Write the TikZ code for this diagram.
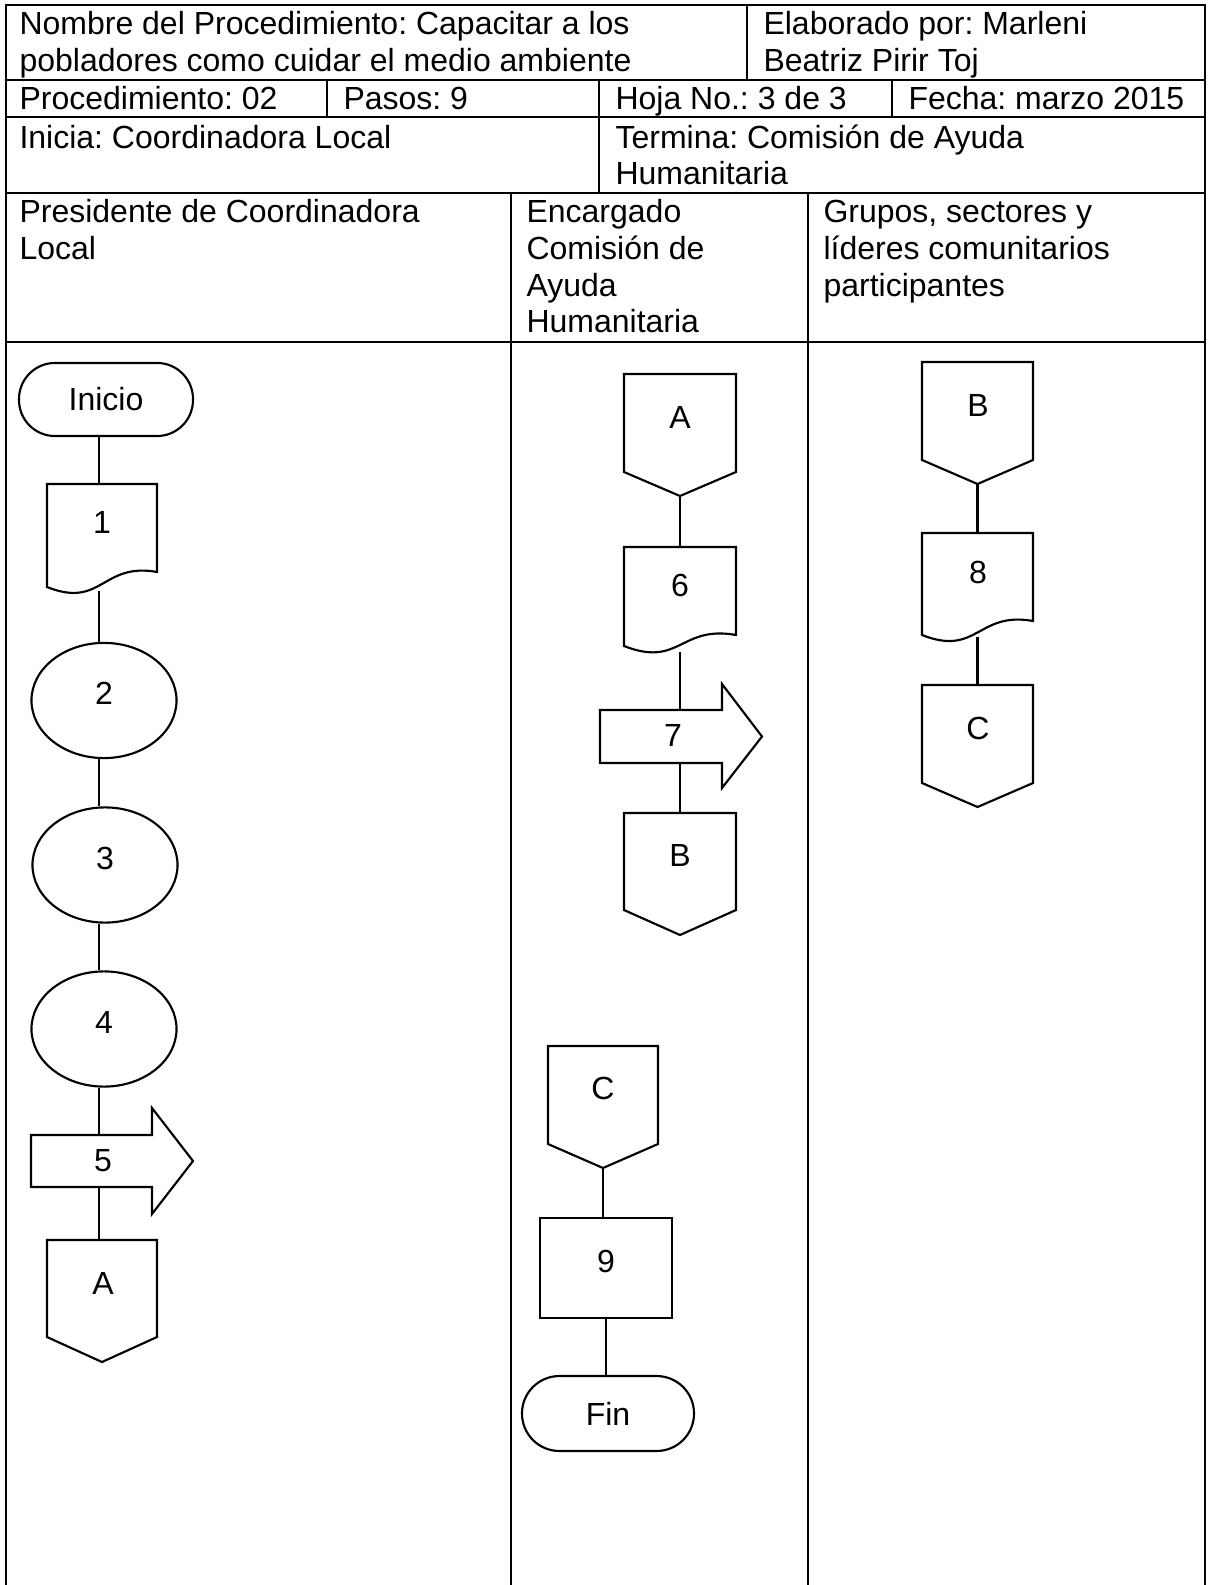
\documentclass[tikz,border=0pt]{standalone}
\usepackage{fontspec}
\setmainfont{Liberation Sans}
\usetikzlibrary{shapes.geometric}
\frenchspacing
\newcommand{\docpath}[5]{% x1, x2, top, left-bottom, right-bottom
  \draw[shp] (#1,#3) -- (#2,#3) -- (#2,#5)
    .. controls ({#1+0.5*(#2-#1)},{#5-10}) and ({#1+0.5*(#2-#1)},{#4+22}) .. (#1,#4) -- cycle;}
\newcommand{\offpg}[5]{% x1, x2, top, side-bottom, tip
  \draw[shp] (#1,#3) -- (#2,#3) -- (#2,#4) -- ({(#1+#2)/2},#5) -- (#1,#4) -- cycle;}
\newcommand{\blkarrow}[7]{% x1, xh, xtip, body-top, body-bottom, head-top, head-bottom
  \draw[shp] (#1,#4) -- (#2,#4) -- (#2,#6) -- (#3,{(#4+#5)/2}) -- (#2,#7) -- (#2,#5) -- (#1,#5) -- cycle;}
\begin{document}
\begin{tikzpicture}[x=0.375pt,y=-0.375pt,
  txt/.style={anchor=base west, inner sep=0, font=\fontsize{12}{14}\selectfont},
  lbl/.style={inner sep=0, font=\fontsize{12}{14}\selectfont},
  shp/.style={draw=black, line width=0.8pt, fill=white},
  grid/.style={draw=black, line width=0.8pt},
  con/.style={draw=black, line width=0.8pt},
  term/.style={shp, rectangle, rounded corners=13.5pt, inner sep=0, font=\fontsize{12}{14}\selectfont},
  ell/.style={shp, ellipse, inner sep=0, minimum width=54.4pt, minimum height=43.2pt, text depth=5.2pt, font=\fontsize{12}{14}\selectfont}]
\useasboundingbox (0,0) rectangle (1208,1585);
% ---- table grid ----
\draw[grid] (6,1585) -- (6,5) -- (1205,5) -- (1205,1585);
\draw[grid] (6,80) -- (1205,80);
\draw[grid] (6,117) -- (1205,117);
\draw[grid] (6,193) -- (1205,193);
\draw[grid] (6,342) -- (1205,342);
\draw[grid] (747,5) -- (747,80);
\draw[grid] (327,80) -- (327,117);
\draw[grid] (599,80) -- (599,193);
\draw[grid] (892,80) -- (892,117);
\draw[grid] (511,193) -- (511,1585);
\draw[grid] (808,193) -- (808,1585);
% ---- header texts ----
\node[txt] (h1a) at (19,35) {Nombre del Procedimiento: Capacitar a los};
\node[txt] (h1b) at (19,72) {pobladores como cuidar el medio ambiente};
\node[txt] (h2a) at (763,35) {Elaborado por: Marleni};
\node[txt] (h2b) at (763,72) {Beatriz Pirir Toj};
\node[txt] (h3) at (19,110) {Procedimiento: 02};
\node[txt] (h4) at (343,110) {Pasos: 9};
\node[txt] (h5) at (615,110) {Hoja No.: 3 de 3};
\node[txt] (h6) at (908,110) {Fecha: marzo 2015};
\node[txt] (h7) at (19,149) {Inicia: Coordinadora Local};
\node[txt] (h8a) at (615,149) {Termina: Comisión de Ayuda};
\node[txt] (h8b) at (615,185) {Humanitaria};
\node[txt] (l1a) at (19,223) {Presidente de Coordinadora};
\node[txt] (l1b) at (19,260) {Local};
\node[txt] (l2a) at (526,223) {Encargado};
\node[txt] (l2b) at (526,260) {Comisión de};
\node[txt] (l2c) at (526,297) {Ayuda};
\node[txt] (l2d) at (526,333) {Humanitaria};
\node[txt] (l3a) at (823,223) {Grupos, sectores y};
\node[txt] (l3b) at (823,260) {líderes comunitarios};
\node[txt] (l3c) at (823,297) {participantes};
% ---- lane 1 ----
\node[term, minimum width=65.25pt, minimum height=27.4pt] (ini) at (106,399.5) {Inicio};
\docpath{47}{157}{484}{587}{572}
\node[lbl] (t1) at (102,522) {1};
\node[ell] (e2) at (104,700.5) {2};
\node[ell] (e3) at (105,865) {3};
\node[ell] (e4) at (104,1029) {4};
\blkarrow{31}{152}{193}{1135}{1187}{1108}{1214}
\node[lbl] (t5) at (103,1161) {5};
\offpg{47}{157}{1240}{1337}{1362}
\node[lbl] (tA1) at (103,1283) {A};
\coordinate (d1t) at (99,484);
\coordinate (d1b) at (99,591);
\coordinate (a5t) at (99,1135);
\coordinate (a5b) at (99,1187);
\coordinate (A1t) at (99,1240);
\draw[con] (ini.south -| d1t) -- (d1t);
\draw[con] (d1b) -- (e2.north -| d1b);
\draw[con] (e2.south -| d1b) -- (e3.north -| d1b);
\draw[con] (e3.south -| d1b) -- (e4.north -| d1b);
\draw[con] (e4.south -| d1b) -- (a5t);
\draw[con] (a5b) -- (A1t);
% ---- lane 2 ----
\offpg{624}{736}{374}{472}{496}
\node[lbl] (tA2) at (680,417) {A};
\docpath{624}{736}{547}{646}{635}
\node[lbl] (t6) at (680,585) {6};
\blkarrow{600}{722}{762}{710}{763}{684}{788}
\node[lbl] (t7) at (673,735) {7};
\offpg{624}{736}{813}{910}{935}
\node[lbl] (tB2) at (680,855) {B};
\coordinate (A2tip) at (680,496);
\coordinate (d6t) at (680,547);
\coordinate (d6b) at (680,652);
\coordinate (a7t) at (680,710);
\coordinate (a7b) at (680,763);
\coordinate (B2t) at (680,813);
\draw[con] (A2tip) -- (d6t);
\draw[con] (d6b) -- (a7t);
\draw[con] (a7b) -- (B2t);
\offpg{548}{658}{1046}{1144}{1168}
\node[lbl] (tC2) at (603,1088) {C};
\node[term, minimum width=49.5pt, minimum height=37.5pt, rounded corners=0pt, text depth=5.2pt] (r9) at (606,1268) {9};
\node[term, minimum width=64.5pt, minimum height=28.1pt, rounded corners=14pt] (fin) at (608,1413.5) {Fin};
\coordinate (C2tip) at (603,1168);
\draw[con] (C2tip) -- (r9.north -| C2tip);
\draw[con] (r9.south) -- (fin.north -| r9.south);
% ---- lane 3 ----
\offpg{922}{1033}{362}{460}{484}
\node[lbl] (tB3) at (978,405) {B};
\docpath{922}{1033}{533}{635}{621}
\node[lbl] (t8) at (978,572) {8};
\offpg{922}{1033}{685}{783}{807}
\node[lbl] (tC3) at (978,728) {C};
\coordinate (B3tip) at (977.5,484);
\coordinate (d8t) at (977.5,533);
\coordinate (d8b) at (977.5,637);
\coordinate (C3t) at (977.5,685);
\draw[con] (B3tip) -- (d8t);
\draw[con] (d8b) -- (C3t);
\end{tikzpicture}
\end{document}
